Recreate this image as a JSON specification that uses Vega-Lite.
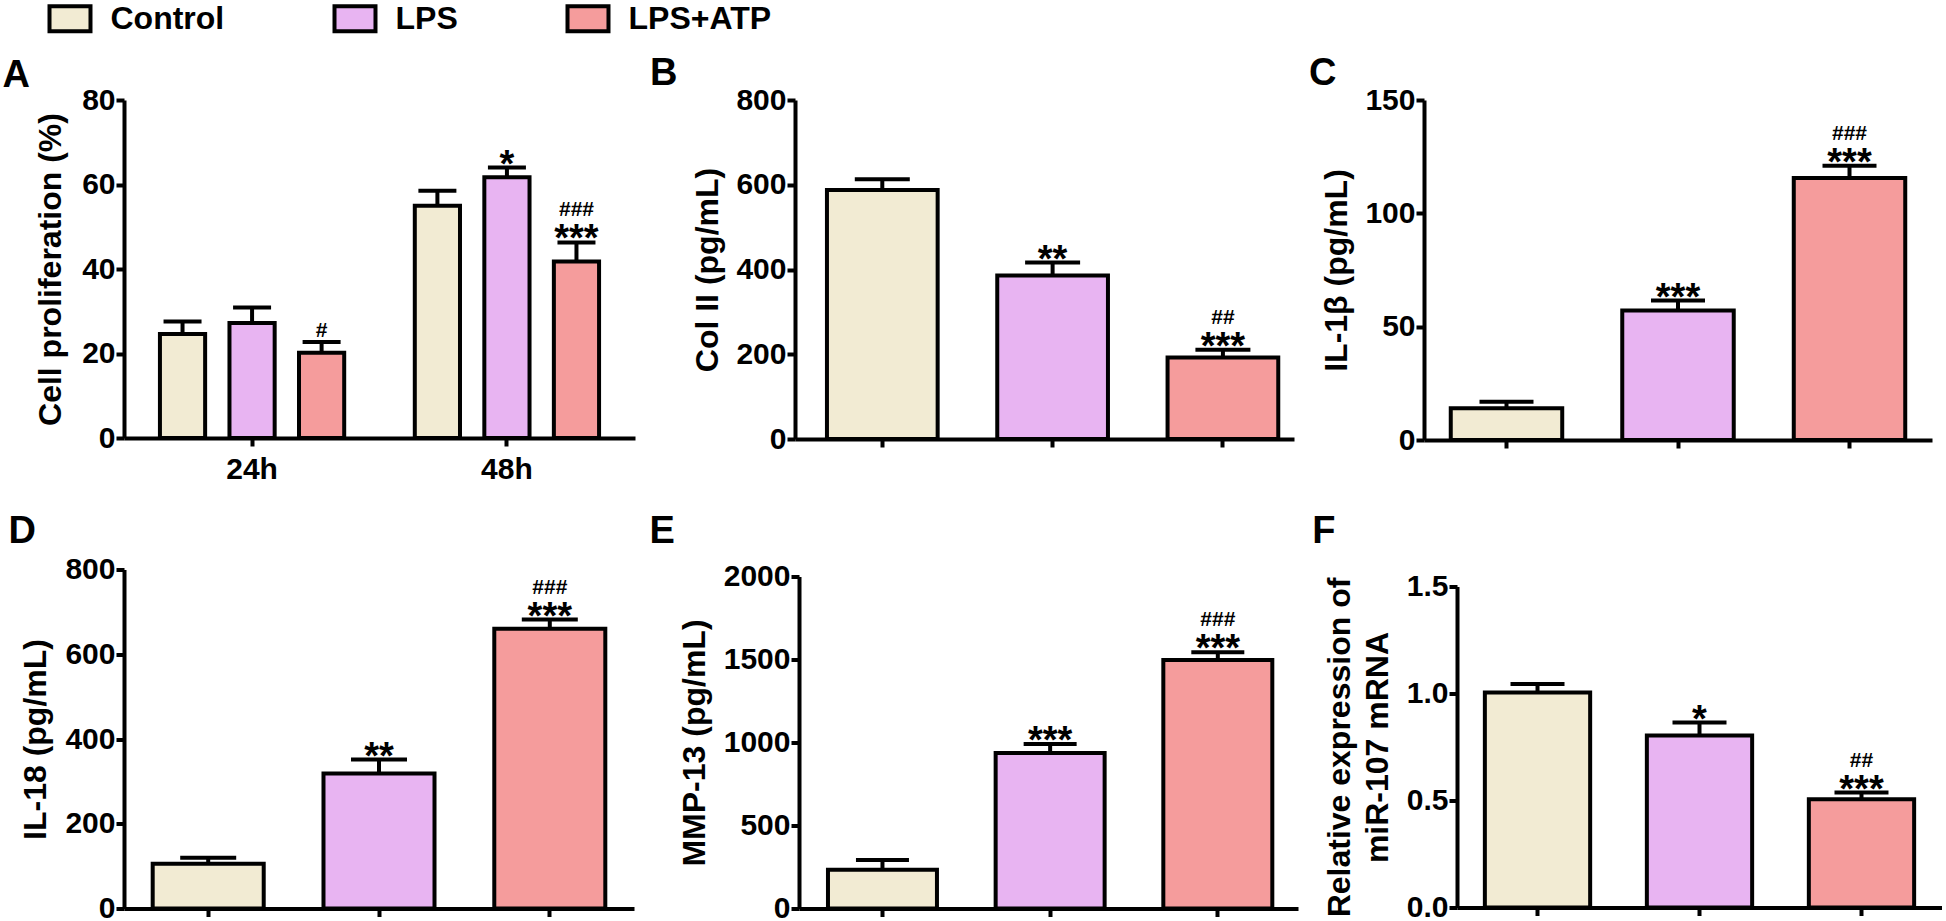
{
  "$schema": "https://vega.github.io/schema/vega-lite/v6.json",
  "background": "white",
  "padding": {"left": 2, "top": 2, "right": 0, "bottom": 0},
  "datasets": {
    "d": [
      {"panel": "A", "time": "24h", "group": "Control", "mean": 24.6, "upper": 27.6, "star": "", "hash": ""},
      {"panel": "A", "time": "24h", "group": "LPS", "mean": 27.2, "upper": 30.9, "star": "", "hash": ""},
      {"panel": "A", "time": "24h", "group": "LPS+ATP", "mean": 20.2, "upper": 22.7, "star": "", "hash": "#"},
      {"panel": "A", "time": "48h", "group": "Control", "mean": 55.0, "upper": 58.5, "star": "", "hash": ""},
      {"panel": "A", "time": "48h", "group": "LPS", "mean": 61.7, "upper": 64.0, "star": "*", "hash": ""},
      {"panel": "A", "time": "48h", "group": "LPS+ATP", "mean": 41.8, "upper": 46.3, "star": "***", "hash": "###"},
      {"panel": "B", "time": "", "group": "Control", "mean": 587.8, "upper": 613.0, "star": "", "hash": ""},
      {"panel": "B", "time": "", "group": "LPS", "mean": 385.9, "upper": 416.5, "star": "**", "hash": ""},
      {"panel": "B", "time": "", "group": "LPS+ATP", "mean": 192.5, "upper": 210.6, "star": "***", "hash": "##"},
      {"panel": "C", "time": "", "group": "Control", "mean": 14.0, "upper": 16.9, "star": "", "hash": ""},
      {"panel": "C", "time": "", "group": "LPS", "mean": 57.1, "upper": 61.5, "star": "***", "hash": ""},
      {"panel": "C", "time": "", "group": "LPS+ATP", "mean": 115.6, "upper": 121.0, "star": "***", "hash": "###"},
      {"panel": "D", "time": "", "group": "Control", "mean": 105.4, "upper": 119.6, "star": "", "hash": ""},
      {"panel": "D", "time": "", "group": "LPS", "mean": 318.6, "upper": 351.6, "star": "**", "hash": ""},
      {"panel": "D", "time": "", "group": "LPS+ATP", "mean": 660.0, "upper": 682.0, "star": "***", "hash": "###"},
      {"panel": "E", "time": "", "group": "Control", "mean": 233.2, "upper": 291.5, "star": "", "hash": ""},
      {"panel": "E", "time": "", "group": "LPS", "mean": 936.7, "upper": 991.0, "star": "***", "hash": ""},
      {"panel": "E", "time": "", "group": "LPS+ATP", "mean": 1497.5, "upper": 1543.7, "star": "***", "hash": "###"},
      {"panel": "F", "time": "", "group": "Control", "mean": 1.005, "upper": 1.044, "star": "", "hash": ""},
      {"panel": "F", "time": "", "group": "LPS", "mean": 0.804, "upper": 0.864, "star": "*", "hash": ""},
      {"panel": "F", "time": "", "group": "LPS+ATP", "mean": 0.506, "upper": 0.537, "star": "***", "hash": "##"}
    ]
  },
  "data": {"name": "d"},
  "columns": 3,
  "align": "none",
  "spacing": {"row": 26.5, "column": 14},
  "concat": [
    {
      "width": 511, "height": 338,
      "title": {"text": "A", "dx": -121.5, "offset": -10},
      "transform": [{"filter": "datum.panel == 'A'"}],
      "encoding": {
        "x": {"field": "time", "type": "nominal", "sort": ["24h", "48h"], "scale": {"paddingInner": 0.277, "paddingOuter": 0.141}, "axis": {"title": null, "labelPadding": 8}},
        "xOffset": {"field": "group", "type": "nominal", "sort": ["Control", "LPS", "LPS+ATP"], "scale": {"paddingInner": 0.35, "paddingOuter": 0}}
      },
      "layer": [
        {"mark": {"type": "bar", "stroke": "black", "strokeWidth": 4},
         "encoding": {
           "y": {"field": "mean", "type": "quantitative", "scale": {"domain": [0, 80], "nice": false}, "axis": {"title": "Cell proliferation (%)", "values": [0, 20, 40, 60, 80], "titlePadding": 14}},
           "color": {"field": "group", "type": "nominal", "sort": ["Control", "LPS", "LPS+ATP"], "scale": {"domain": ["Control", "LPS", "LPS+ATP"], "range": ["#f2ebd3", "#e8b4f2", "#f59c9c"]},
             "legend": {"orient": "none", "legendX": -70, "legendY": -97.5, "direction": "horizontal", "title": null, "symbolType": "M-1.464,-0.893L1.464,-0.893L1.464,0.893L-1.464,0.893Z", "symbolSize": 784, "symbolStrokeColor": "black", "symbolStrokeWidth": 4, "symbolOpacity": 1, "labelFont": "Liberation Sans", "labelFontSize": 32, "labelFontWeight": "bold", "labelColor": "black", "labelOffset": 24.5, "columnPadding": 101, "padding": 0, "labelLimit": 400}}
         }},
        {"mark": {"type": "rule", "color": "black", "strokeWidth": 4},
         "encoding": {"y": {"field": "mean", "type": "quantitative"}, "y2": {"field": "upper"}}},
        {"mark": {"type": "tick", "color": "black", "opacity": 1, "size": 38, "thickness": 4},
         "encoding": {"y": {"field": "upper", "type": "quantitative"}}},
        {"mark": {"type": "text", "fontSize": 38, "fontWeight": "bold", "baseline": "alphabetic", "dy": 9, "color": "black"},
         "encoding": {"y": {"field": "upper", "type": "quantitative"}, "text": {"field": "star"}}},
        {"transform": [{"filter": "datum.star != '' && datum.hash != ''"}],
         "mark": {"type": "text", "fontSize": 21, "fontWeight": "bold", "baseline": "alphabetic", "dy": -26, "color": "black"},
         "encoding": {"y": {"field": "upper", "type": "quantitative"}, "text": {"field": "hash"}}},
        {"transform": [{"filter": "datum.star == '' && datum.hash != ''"}],
         "mark": {"type": "text", "fontSize": 21, "fontWeight": "bold", "baseline": "alphabetic", "dy": -5, "color": "black"},
         "encoding": {"y": {"field": "upper", "type": "quantitative"}, "text": {"field": "hash"}}}
      ]
    },
    {
      "width": 499, "height": 339,
      "title": {"text": "B", "dx": -145.1, "offset": -8},
      "transform": [{"filter": "datum.panel == 'B'"}],
      "encoding": {
        "x": {"field": "group", "type": "nominal", "sort": ["Control", "LPS", "LPS+ATP"], "scale": {"paddingInner": 0.35, "paddingOuter": 0.14, "align": 0.67}, "axis": {"title": null, "labelExpr": "' '", "labelPadding": 8}}
      },
      "layer": [
        {"mark": {"type": "bar", "stroke": "black", "strokeWidth": 4},
         "encoding": {
           "y": {"field": "mean", "type": "quantitative", "scale": {"domain": [0, 800], "nice": false}, "axis": {"title": "Col II (pg/mL)", "values": [0, 200, 400, 600, 800], "titlePadding": 11}},
           "color": {"field": "group", "type": "nominal", "legend": null}
         }},
        {"mark": {"type": "rule", "color": "black", "strokeWidth": 4},
         "encoding": {"y": {"field": "mean", "type": "quantitative"}, "y2": {"field": "upper"}}},
        {"mark": {"type": "tick", "color": "black", "opacity": 1, "size": 55, "thickness": 4},
         "encoding": {"y": {"field": "upper", "type": "quantitative"}}},
        {"mark": {"type": "text", "fontSize": 38, "fontWeight": "bold", "baseline": "alphabetic", "dy": 9, "color": "black"},
         "encoding": {"y": {"field": "upper", "type": "quantitative"}, "text": {"field": "star"}}},
        {"transform": [{"filter": "datum.star != '' && datum.hash != ''"}],
         "mark": {"type": "text", "fontSize": 21, "fontWeight": "bold", "baseline": "alphabetic", "dy": -26, "color": "black"},
         "encoding": {"y": {"field": "upper", "type": "quantitative"}, "text": {"field": "hash"}}}
      ]
    },
    {
      "width": 508, "height": 340,
      "title": {"text": "C", "dx": -115.1, "offset": -8},
      "transform": [{"filter": "datum.panel == 'C'"}],
      "encoding": {
        "x": {"field": "group", "type": "nominal", "sort": ["Control", "LPS", "LPS+ATP"], "scale": {"paddingInner": 0.35, "paddingOuter": 0.156}, "axis": {"title": null, "labelExpr": "' '", "labelPadding": 8}}
      },
      "layer": [
        {"mark": {"type": "bar", "stroke": "black", "strokeWidth": 4},
         "encoding": {
           "y": {"field": "mean", "type": "quantitative", "scale": {"domain": [0, 150], "nice": false}, "axis": {"title": "IL-1β (pg/mL)", "values": [0, 50, 100, 150], "titlePadding": 11}},
           "color": {"field": "group", "type": "nominal", "legend": null}
         }},
        {"mark": {"type": "rule", "color": "black", "strokeWidth": 4},
         "encoding": {"y": {"field": "mean", "type": "quantitative"}, "y2": {"field": "upper"}}},
        {"mark": {"type": "tick", "color": "black", "opacity": 1, "size": 54, "thickness": 4},
         "encoding": {"y": {"field": "upper", "type": "quantitative"}}},
        {"mark": {"type": "text", "fontSize": 38, "fontWeight": "bold", "baseline": "alphabetic", "dy": 9, "color": "black"},
         "encoding": {"y": {"field": "upper", "type": "quantitative"}, "text": {"field": "star"}}},
        {"transform": [{"filter": "datum.star != '' && datum.hash != ''"}],
         "mark": {"type": "text", "fontSize": 21, "fontWeight": "bold", "baseline": "alphabetic", "dy": -26, "color": "black"},
         "encoding": {"y": {"field": "upper", "type": "quantitative"}, "text": {"field": "hash"}}}
      ]
    },
    {
      "width": 510, "height": 339,
      "title": {"text": "D", "dx": -115.5, "offset": 3.8},
      "transform": [{"filter": "datum.panel == 'D'"}],
      "encoding": {
        "x": {"field": "group", "type": "nominal", "sort": ["Control", "LPS", "LPS+ATP"], "scale": {"paddingInner": 0.35, "paddingOuter": 0.168}, "axis": {"title": null, "labels": false}}
      },
      "layer": [
        {"mark": {"type": "bar", "stroke": "black", "strokeWidth": 4},
         "encoding": {
           "y": {"field": "mean", "type": "quantitative", "scale": {"domain": [0, 800], "nice": false}, "axis": {"title": "IL-18 (pg/mL)", "values": [0, 200, 400, 600, 800], "titlePadding": 12}},
           "color": {"field": "group", "type": "nominal", "legend": null}
         }},
        {"mark": {"type": "rule", "color": "black", "strokeWidth": 4},
         "encoding": {"y": {"field": "mean", "type": "quantitative"}, "y2": {"field": "upper"}}},
        {"mark": {"type": "tick", "color": "black", "opacity": 1, "size": 56, "thickness": 4},
         "encoding": {"y": {"field": "upper", "type": "quantitative"}}},
        {"mark": {"type": "text", "fontSize": 38, "fontWeight": "bold", "baseline": "alphabetic", "dy": 9, "color": "black"},
         "encoding": {"y": {"field": "upper", "type": "quantitative"}, "text": {"field": "star"}}},
        {"transform": [{"filter": "datum.star != '' && datum.hash != ''"}],
         "mark": {"type": "text", "fontSize": 21, "fontWeight": "bold", "baseline": "alphabetic", "dy": -26, "color": "black"},
         "encoding": {"y": {"field": "upper", "type": "quantitative"}, "text": {"field": "hash"}}}
      ]
    },
    {
      "width": 499, "height": 332,
      "title": {"text": "E", "dx": -149.5, "offset": 10.5},
      "transform": [{"filter": "datum.panel == 'E'"}],
      "encoding": {
        "x": {"field": "group", "type": "nominal", "sort": ["Control", "LPS", "LPS+ATP"], "scale": {"paddingInner": 0.35, "paddingOuter": 0.163, "align": 0.53}, "axis": {"title": null, "labels": false}}
      },
      "layer": [
        {"mark": {"type": "bar", "stroke": "black", "strokeWidth": 4},
         "encoding": {
           "y": {"field": "mean", "type": "quantitative", "scale": {"domain": [0, 2000], "nice": false}, "axis": {"title": "MMP-13 (pg/mL)", "values": [0, 500, 1000, 1500, 2000], "format": "d", "titlePadding": 12}},
           "color": {"field": "group", "type": "nominal", "legend": null}
         }},
        {"mark": {"type": "rule", "color": "black", "strokeWidth": 4},
         "encoding": {"y": {"field": "mean", "type": "quantitative"}, "y2": {"field": "upper"}}},
        {"mark": {"type": "tick", "color": "black", "opacity": 1, "size": 53, "thickness": 4},
         "encoding": {"y": {"field": "upper", "type": "quantitative"}}},
        {"mark": {"type": "text", "fontSize": 38, "fontWeight": "bold", "baseline": "alphabetic", "dy": 9, "color": "black"},
         "encoding": {"y": {"field": "upper", "type": "quantitative"}, "text": {"field": "star"}}},
        {"transform": [{"filter": "datum.star != '' && datum.hash != ''"}],
         "mark": {"type": "text", "fontSize": 21, "fontWeight": "bold", "baseline": "alphabetic", "dy": -26, "color": "black"},
         "encoding": {"y": {"field": "upper", "type": "quantitative"}, "text": {"field": "hash"}}}
      ]
    },
    {
      "width": 485, "height": 321,
      "title": {"text": "F", "dx": -144.7, "offset": 20.2},
      "transform": [{"filter": "datum.panel == 'F'"}],
      "encoding": {
        "x": {"field": "group", "type": "nominal", "sort": ["Control", "LPS", "LPS+ATP"], "scale": {"paddingInner": 0.35, "paddingOuter": 0.172}, "axis": {"title": null, "labels": false}}
      },
      "layer": [
        {"mark": {"type": "bar", "stroke": "black", "strokeWidth": 4},
         "encoding": {
           "y": {"field": "mean", "type": "quantitative", "scale": {"domain": [0, 1.5], "nice": false}, "axis": {"title": ["Relative expression of", "miR-107 mRNA"], "values": [0, 0.5, 1.0, 1.5], "format": ".1f", "titlePadding": 12, "titleLineHeight": 38}},
           "color": {"field": "group", "type": "nominal", "legend": null}
         }},
        {"mark": {"type": "rule", "color": "black", "strokeWidth": 4},
         "encoding": {"y": {"field": "mean", "type": "quantitative"}, "y2": {"field": "upper"}}},
        {"mark": {"type": "tick", "color": "black", "opacity": 1, "size": 54, "thickness": 4},
         "encoding": {"y": {"field": "upper", "type": "quantitative"}}},
        {"mark": {"type": "text", "fontSize": 38, "fontWeight": "bold", "baseline": "alphabetic", "dy": 9, "color": "black"},
         "encoding": {"y": {"field": "upper", "type": "quantitative"}, "text": {"field": "star"}}},
        {"transform": [{"filter": "datum.star != '' && datum.hash != ''"}],
         "mark": {"type": "text", "fontSize": 21, "fontWeight": "bold", "baseline": "alphabetic", "dy": -26, "color": "black"},
         "encoding": {"y": {"field": "upper", "type": "quantitative"}, "text": {"field": "hash"}}}
      ]
    }
  ],
  "config": {
    "font": "Liberation Sans",
    "view": {"stroke": null},
    "axis": {
      "domainColor": "black", "domainWidth": 4, "tickColor": "black", "tickWidth": 4, "tickSize": 8,
      "labelFont": "Liberation Sans", "labelFontSize": 30, "labelFontWeight": "bold", "labelColor": "black", "labelPadding": 1,
      "titleFont": "Liberation Sans", "titleFontSize": 32, "titleFontWeight": "bold", "titleColor": "black",
      "grid": false
    },
    "axisX": {"labelAngle": 0},
    "title": {"font": "Liberation Sans", "fontSize": 38, "fontWeight": "bold", "anchor": "start", "frame": "group", "color": "black", "baseline": "alphabetic"}
  }
}
